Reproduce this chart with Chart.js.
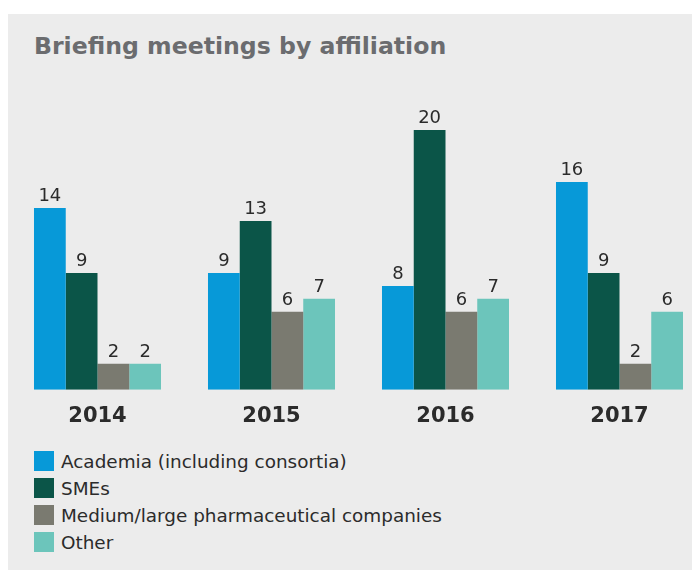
<!DOCTYPE html>
<html>
<head>
<meta charset="utf-8">
<script src="https://cdn.jsdelivr.net/npm/chart.js@4.4.0/dist/chart.umd.min.js"></script>
<style>
  html, body { margin: 0; padding: 0; background: #fff; overflow: hidden; width: 692px; height: 570px; }
  #panel { position: absolute; left: 8px; top: 14px; width: 684px; height: 556px; background: #ececec; }
  #title { position: absolute; left: 34px; top: 32px; font: bold 23.6px "DejaVu Sans", Verdana, sans-serif; line-height: 28px; color: #6b6c6f; }
  #wrap { position: absolute; left: 0; top: 0; width: 712px; height: 449px; }
  #legend { position: absolute; left: 34px; top: 451px; font: 18.4px "DejaVu Sans", Verdana, sans-serif; color: #2b2b2b; }
  .row { height: 27px; display: flex; align-items: flex-start; }
  .box { width: 20px; height: 20px; margin-right: 7px; }
  .row span { line-height: 20px; position: relative; top: 1px; }
</style>
</head>
<body>
<div id="panel"></div>
<div id="title">Briefing meetings by affiliation</div>
<div id="wrap"><canvas id="myChart" width="712" height="449"></canvas></div>
<div id="legend"></div>
<script>
const years = ['2014', '2015', '2016', '2017'];
const seriesNames = ['Academia (including consortia)', 'SMEs', 'Medium/large pharmaceutical companies', 'Other'];
const academia = [14, 9, 8, 16];
const smes = [9, 13, 20, 9];
const pharma = [2, 6, 6, 2];
const other = [2, 7, 7, 6];
const colors = ['#0799d8', '#0b5548', '#7a7a70', '#6cc5bb'];

const ctx = document.getElementById('myChart');
const allValues = [academia, smes, pharma, other];

// numbers above each bar
const valueLabels = {
    id: 'valueLabels',
    afterDatasetsDraw(chart) {
        const c = chart.ctx;
        c.save();
        c.font = '18px "DejaVu Sans", Verdana, sans-serif';
        c.fillStyle = '#2b2b2b';
        c.textAlign = 'center';
        c.textBaseline = 'alphabetic';
        chart.data.datasets.forEach((ds, i) => {
            chart.getDatasetMeta(i).data.forEach((bar, j) => {
                c.fillText(ds.data[j], bar.x, bar.y - 7);
            });
        });
        c.restore();
    }
};

new Chart(ctx, {
    type: 'bar',
    data: {
        labels: years,
        datasets: allValues.map((vals, i) => ({
            label: seriesNames[i],
            data: vals,
            backgroundColor: colors[i],
            borderWidth: 0,
            barPercentage: 1,
            categoryPercentage: 0.73
        }))
    },
    options: {
        responsive: false,
        animation: false,
        layout: { padding: { left: 10.5, right: 5.5, top: 130, bottom: 14 } },
        scales: {
            y: { display: false, min: 0, max: 20 },
            x: {
                grid: { display: false },
                border: { display: false },
                ticks: {
                    padding: 6,
                    color: '#2b2b2b',
                    font: { family: '"DejaVu Sans", Verdana, sans-serif', size: 21, weight: 'bold' }
                }
            }
        },
        plugins: {
            legend: { display: false },
            tooltip: { enabled: false }
        }
    },
    plugins: [valueLabels]
});

const legend = document.getElementById('legend');
seriesNames.forEach((name, i) => {
    const row = document.createElement('div');
    row.className = 'row';
    row.innerHTML = '<div class="box" style="background:' + colors[i] + '"></div><span>' + name + '</span>';
    legend.appendChild(row);
});
</script>
</body>
</html>
